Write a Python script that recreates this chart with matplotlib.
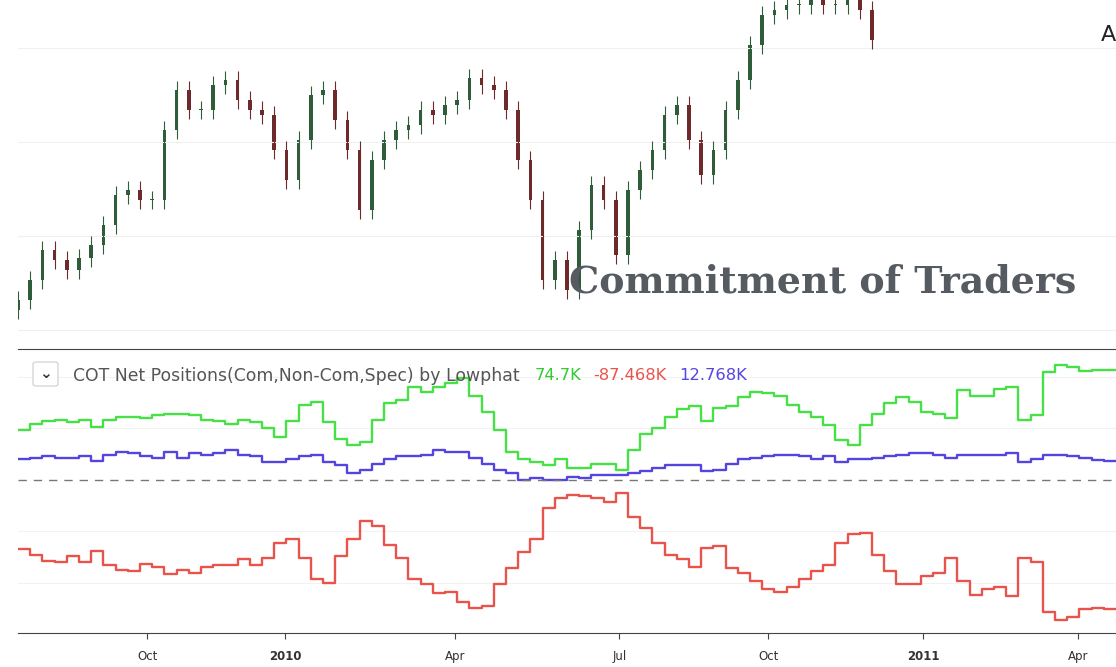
import numpy as np
import matplotlib
matplotlib.use('Agg')
import matplotlib.pyplot as plt
from matplotlib.patches import FancyBboxPatch

# weekly closes of the price panel (arbitrary price units)
price_close = [40, 60, 90, 80, 70, 82, 95, 115, 145, 150,
               140, 140, 210, 250, 230, 230, 255, 260, 240, 230,
               225, 190, 160, 200, 245, 250, 220, 190, 130, 180,
               200, 210, 215, 230, 225, 235, 240, 262, 255, 250,
               230, 180, 140, 60, 80, 50, 110, 155, 140, 85,
               150, 170, 190, 225, 235, 200, 165, 190, 230, 260,
               295, 325, 330, 335, 335, 345, 335, 335, 340, 330,
               300]

# COT net positions (K contracts), weekly
com_net = [34, 38, 40, 41, 39, 41, 36, 41, 43, 43,
           42, 44, 45, 45, 44, 41, 40, 38, 41, 39,
           35, 29, 40, 51, 53, 39, 28, 24, 26, 41,
           52, 54, 63, 60, 63, 66, 69, 57, 46, 34,
           19, 14, 12, 10, 14, 8, 8, 11, 11, 7,
           20, 31, 35, 43, 48, 50, 40, 49, 50, 56,
           60, 59, 57, 51, 46, 43, 37, 27, 24, 37,
           45, 52, 56, 53, 46, 45, 42, 61, 57, 57,
           62, 63, 41, 44, 73, 78, 77, 74, 74.7, 74.7,
           74.7]
noncom_net = [-47, -51, -55, -56, -52, -56, -48, -58, -61, -62,
              -57, -59, -64, -61, -63, -59, -58, -58, -54, -58,
              -53, -43, -40, -53, -67, -70, -52, -40, -28, -31,
              -44, -53, -67, -71, -77, -76, -83, -87, -86, -71,
              -60, -49, -40, -19, -12, -10, -11, -12, -15, -9,
              -25, -33, -43, -51, -54, -59, -46, -45, -60, -63,
              -69, -74, -76, -73, -67, -62, -58, -43, -37, -36,
              -51, -62, -71, -71, -65, -63, -53, -69, -78, -74,
              -73, -79, -53, -56, -90, -95, -93, -88, -87, -87.5,
              -87.468]
spec_net = [14, 15, 16, 15, 15, 16, 13, 17, 19, 18,
            16, 15, 19, 15, 18, 17, 18, 20, 17, 16,
            12, 12, 14, 16, 17, 12, 10, 5, 7, 11,
            14, 16, 16, 17, 20, 19, 19, 15, 11, 7,
            5, 0, 1, 0, 0, 2, 1, 3, 3, 3,
            5, 6, 8, 10, 10, 10, 6, 7, 11, 14,
            15, 16, 17, 17, 16, 14, 16, 12, 14, 14,
            15, 16, 17, 18, 18, 17, 15, 17, 17, 17,
            17, 18, 12, 14, 17, 17, 16, 15, 13.5, 13,
            12.768]

# bar-index axis (like TradingView): tick positions in week-bar units
tick_pos = [10.6, 21.9, 35.8, 49.3, 61.5, 74.2, 86.9]
tick_labels = ['Oct', '2010', 'Apr', 'Jul', 'Oct', '2011', 'Apr']

wk = np.arange(len(com_net))
xlim = (0, 90)

fig = plt.figure(figsize=(11.16, 6.67), dpi=100)
ax1 = fig.add_axes([18 / 1116, 0.49, 1 - 18 / 1116, 0.51])
ax2 = fig.add_axes([18 / 1116, 0.051, 1 - 18 / 1116, 0.426])

# --- candles ---
up_c, dn_c = '#2f5d3a', '#6e2a2a'
for i, c in enumerate(price_close):
    o = price_close[i - 1] if i > 0 else c - 10
    col = up_c if c >= o else dn_c
    ax1.vlines(i, min(o, c) - 9, max(o, c) + 9, color=col, lw=0.8)
    ax1.bar(i, max(abs(c - o), 1), bottom=min(o, c), width=0.3, color=col, lw=0)
ax1.set_xlim(xlim)
ax1.set_ylim(0, 340)
ax1.set_yticks([10, 104, 198, 292])
ax1.grid(axis='y', color='#f0f0f0', lw=0.8)
ax1.set_xticks([])
ax1.tick_params(left=False, labelleft=False)
for s in ax1.spines.values():
    s.set_visible(False)
ax1.text(0.502, 0.14, 'Commitment of Traders', transform=ax1.transAxes,
         fontsize=27.4, fontweight='bold', family='DejaVu Serif', color='#555b60')
ax1.text(1.0, 0.88, 'A', transform=ax1.transAxes, fontsize=16, color='#222', ha='right')

# --- COT panel ---
ax2.step(wk, com_net, where='post', color='#47e047', lw=1.7)
ax2.step(wk, spec_net, where='post', color='#5545e0', lw=1.7)
ax2.step(wk, noncom_net, where='post', color='#e8544c', lw=1.7)
ax2.axhline(0, color='#777', lw=1, ls=(0, (6, 5)))
ax2.set_xlim(xlim)
ax2.set_ylim(-104, 89)
ax2.set_yticks([-70, -35, 35, 70])
ax2.grid(axis='y', color='#f2f2f2', lw=0.8)
ax2.tick_params(left=False, labelleft=False)
for s in ['left', 'right']:
    ax2.spines[s].set_visible(False)
ax2.spines['top'].set_color('#444')
ax2.spines['bottom'].set_color('#444')
ax2.set_xticks(tick_pos)
ax2.set_xticklabels(tick_labels, fontsize=8.5, color='#333')
for lab in ax2.get_xticklabels():
    if lab.get_text() in ('2010', '2011'):
        lab.set_fontweight('bold')
ax2.tick_params(axis='x', length=4, color='#444', pad=8)

# legend header
box = FancyBboxPatch((33 / 1116, 1 - 386 / 667), 25 / 1116, 24 / 667,
                     boxstyle='round,pad=0,rounding_size=0.003',
                     transform=fig.transFigure, fc='white', ec='#ccc', lw=0.8)
fig.patches.append(box)
fig.text(45.5 / 1116, 1 - 374 / 667, '⌄', ha='center', va='center', fontsize=11,
         color='#333', fontweight='bold')
fig.text(73 / 1116, 1 - 376 / 667, 'COT Net Positions(Com,Non-Com,Spec) by Lowphat',
         fontsize=12.4, color='#555', va='center')
fig.text(535 / 1116, 1 - 376 / 667, '74.7K', fontsize=11.8, color='#2ecc2e', va='center')
fig.text(593 / 1116, 1 - 376 / 667, '-87.468K', fontsize=11.8, color='#e8544c', va='center')
fig.text(679 / 1116, 1 - 376 / 667, '12.768K', fontsize=11.8, color='#5545e0', va='center')

fig.savefig('out.png', dpi=100)
